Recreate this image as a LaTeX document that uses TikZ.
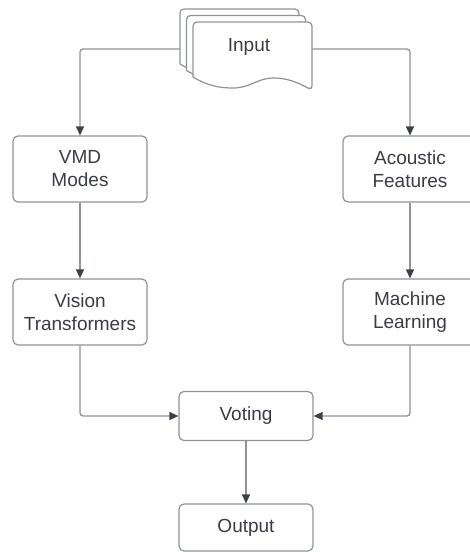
\documentclass[tikz,border=0pt]{standalone}
\usepackage{fontspec}
\setmainfont{Liberation Sans}
\usetikzlibrary{arrows.meta}
\definecolor{edgegray}{HTML}{8E9399}
\definecolor{tipdark}{HTML}{3C4047}
\definecolor{labelink}{HTML}{3A3D43}
\tikzset{
  stepbox/.style={draw=edgegray, line width=1.2pt, rounded corners=5pt, fill=white,
    minimum width=134pt, text=labelink, align=center,
    font=\fontsize{19pt}{23pt}\selectfont, inner sep=0pt},
  flow/.style={draw=edgegray, line width=1.3pt, rounded corners=3pt,
    -{Triangle[length=9pt,width=8pt,color=tipdark,fill=tipdark]}},
  link/.style={draw=edgegray, line width=1.3pt, rounded corners=3pt},
  sheet/.style={draw=edgegray, line width=1.2pt, fill=white}
}
\begin{document}
\begin{tikzpicture}[x=1pt,y=-1pt]
\useasboundingbox (0,0) rectangle (470,552);

% process boxes
\node[stepbox, minimum height=66pt] (vmd) at (80,169) {VMD\\Modes};
\node[stepbox, minimum height=66pt] (acoustic) at (410,169) {Acoustic\\Features};
\node[stepbox, minimum height=66pt] (vision) at (80,312) {Vision\\Transformers};
\node[stepbox, minimum height=66pt] (machine) at (410,312) {Machine\\Learning};
\node[stepbox, minimum height=49pt] (voting) at (246,416) {Voting};
\node[stepbox, minimum height=47pt] (output) at (246,527.5) {Output};

% anchor for the stacked input documents
\node[minimum width=119pt, minimum height=10pt, inner sep=0pt] (input) at (252.5,49) {};

% connectors
\draw[flow] (input.west) -| (vmd.north);
\draw[flow] (input.east) -| (acoustic.north);
\draw[flow] (vmd.south) -- (vision.north);
\draw[flow] (acoustic.south) -- (machine.north);
\draw[flow] (vision.south) |- (voting.west);
\draw[flow] (machine.south) |- (voting.east);
\draw[flow] (voting.south) -- (output.north);

% stacked document sheets, back to front
\foreach \d in {13,6.5,0}{
  \draw[sheet, shift={(-\d,-\d)}]
    (193,77) [rounded corners=4pt] -- (193,22) -- (312,22) -- (312,90) [sharp corners]
    .. controls (300,84) and (290,78) .. (273,78)
    .. controls (258,78) and (250,88) .. (233,88)
    .. controls (220,88) and (208,86) .. (193,77) -- cycle;
}
\node[text=labelink, font=\fontsize{19pt}{23pt}\selectfont, anchor=center] (inputlabel) at (249,47) {Input};
\end{tikzpicture}
\end{document}
